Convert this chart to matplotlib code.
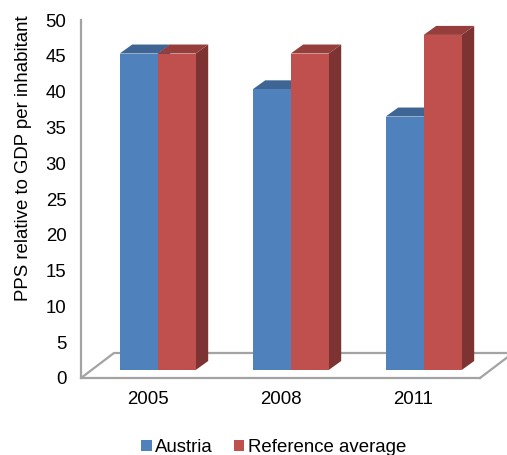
import matplotlib
matplotlib.use("Agg")
import matplotlib.pyplot as plt
from matplotlib.patches import Polygon, Patch

plt.rcParams['font.family'] = ['Liberation Sans', 'DejaVu Sans']

years = ['2005', '2008', '2011']
austria = [44.2, 39.2, 35.4]
reference = [44.2, 44.2, 46.8]

W, H = 507, 455
fig = plt.figure(figsize=(W/100, H/100), dpi=100)
L, R, T, B = 81, 480, 20, 378
ax = fig.add_axes([L/W, 1-B/H, (R-L)/W, (B-T)/H])
ax.set_xlim(-0.5, 2.5)
ax.set_ylim(0, 50)
ax.patch.set_alpha(0)

ux = (R-L)/3.0      # px per category
uy = (B-T)/50.0     # px per value unit
base = 8/uy         # bars stand on the floor, slightly behind its front edge
shift = 10.2/ux     # group offset on the floor
bw = 38/ux
dx, dy = 12.5/ux, 9/uy
fx, fy = 33/ux, 25/uy
FS = 13.4

GREY = '#A3A3A3'
ax.plot([-0.5, -0.5+fx, 2.5+fx], [0, fy, fy], color=GREY, lw=1.6, clip_on=False, zorder=1, solid_capstyle='butt')
ax.plot([2.5, 2.5+fx], [0, fy], color=GREY, lw=1.6, clip_on=False, zorder=1)

BLUE, BLUE_TOP, BLUE_SIDE = '#4F81BD', '#3E6594', '#375A85'
RED, RED_TOP, RED_SIDE = '#C0504D', '#953E3C', '#7D3331'

def box(x0, v, top, side, z):
    x1 = x0 + bw
    t = base + v
    ax.add_patch(Polygon([(x1, base), (x1+dx, base+dy), (x1+dx, t+dy), (x1, t)], fc=side, ec='none', zorder=z, clip_on=False))
    ax.add_patch(Polygon([(x0, t), (x0+dx, t+dy), (x1+dx, t+dy), (x1, t)], fc=top, ec='none', zorder=z, clip_on=False))

xs = [i + shift for i in range(len(years))]
for i, x in enumerate(xs):
    box(x-bw, austria[i], BLUE_TOP, BLUE_SIDE, 2)
    box(x, reference[i], RED_TOP, RED_SIDE, 3)
ax.bar([x-bw/2 for x in xs], austria, width=bw, bottom=base, color=BLUE, zorder=2.5, clip_on=False)
ax.bar([x+bw/2 for x in xs], reference, width=bw, bottom=base, color=RED, zorder=3.5, clip_on=False)

for s in ['top', 'right']:
    ax.spines[s].set_visible(False)
for s in ['left', 'bottom']:
    ax.spines[s].set_color(GREY)
    ax.spines[s].set_linewidth(1.6)

ax.set_xticks(range(len(years)), years)
ax.set_yticks(range(0, 51, 5))
ax.tick_params(axis='both', length=0, labelsize=FS, labelcolor='black')
ax.tick_params(axis='y', pad=10.5)
ax.tick_params(axis='x', pad=9.5)
fig.text(23.5/W, 1-158.5/H, 'PPS relative to GDP per inhabitant', rotation=90, fontsize=FS, ha='center', va='center')

fig.legend(handles=[Patch(fc=BLUE, label='Austria'), Patch(fc=RED, label='Reference average')],
           loc='center', bbox_to_anchor=(274/W, 1-448/H), ncol=2, frameon=False, fontsize=FS,
           handlelength=0.54, handleheight=0.54, handletextpad=0.2, columnspacing=1.15,
           borderpad=0, borderaxespad=0)
fig.savefig('out.png', dpi=100)
